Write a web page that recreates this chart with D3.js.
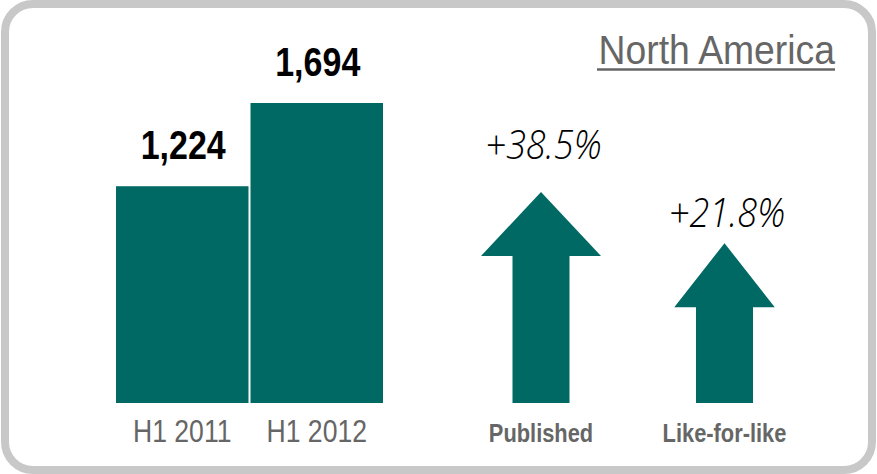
<!DOCTYPE html>
<html>
<head>
<meta charset="utf-8">
<script src="https://cdn.jsdelivr.net/npm/d3@7"></script>
<style>
  html, body { margin: 0; padding: 0; background: #fff; }
  svg { display: block; }
</style>
</head>
<body>
<svg id="chart" width="877" height="474"></svg>
<script>
// Revenue, first half of the year (region panel)
const title = "North America";
const periods = ["H1 2011", "H1 2012"];
const revenue = [1224, 1694];

// Growth indicators
const growthLabels = ["Published", "Like-for-like"];
const growthPct = [38.5, 21.8];

const TEAL = "#006963";
const GREY = "#666666";
const SANS = "'Liberation Sans', Arial, sans-serif";

const svg = d3.select("#chart");

// Squeeze text horizontally to get a condensed face from a regular one
function condense(sel, k) {
  sel.each(function () {
    const w = this.getComputedTextLength();
    d3.select(this)
      .attr("textLength", w * k)
      .attr("lengthAdjust", "spacingAndGlyphs");
  });
}

// Rounded panel frame
svg.append("rect")
  .attr("x", 5).attr("y", 4)
  .attr("width", 867).attr("height", 466)
  .attr("rx", 28).attr("ry", 28)
  .attr("fill", "#fff")
  .attr("stroke", "#c8c8c8")
  .attr("stroke-width", 8);

// Title with underline
svg.append("text")
  .attr("x", 835).attr("y", 64)
  .attr("text-anchor", "end")
  .attr("font-family", SANS)
  .attr("font-size", 41)
  .attr("fill", GREY)
  .text(title)
  .call(condense, 0.91);
svg.append("line")
  .attr("x1", 597).attr("x2", 835)
  .attr("y1", 69.5).attr("y2", 69.5)
  .attr("stroke", GREY).attr("stroke-width", 2.5);

// Bars
const baseline = 403;
const x = d3.scaleBand().domain(periods).range([116, 383]).paddingInner(0.015);
const y = d3.scaleLinear().domain([0, d3.max(revenue)]).range([baseline, 103]);
const fmt = d3.format(",");

const barData = periods.map((p, i) => ({ p, v: revenue[i] }));

svg.append("g").selectAll("rect").data(barData).join("rect")
  .attr("x", d => x(d.p))
  .attr("y", d => y(d.v))
  .attr("width", x.bandwidth())
  .attr("height", d => baseline - y(d.v))
  .attr("fill", TEAL);

svg.append("g").selectAll("text").data(barData).join("text")
  .attr("x", d => x(d.p) + x.bandwidth() / 2 + 1)
  .attr("y", d => y(d.v) - 27)
  .attr("text-anchor", "middle")
  .attr("font-family", SANS)
  .attr("font-size", 40)
  .attr("font-weight", 700)
  .attr("fill", "#000")
  .text(d => fmt(d.v))
  .call(condense, 0.85);

svg.append("g").selectAll("text").data(barData).join("text")
  .attr("x", d => x(d.p) + x.bandwidth() / 2)
  .attr("y", 442)
  .attr("text-anchor", "middle")
  .attr("font-family", SANS)
  .attr("font-size", 32)
  .attr("fill", GREY)
  .text(d => d.p)
  .call(condense, 0.83);

// Growth arrows
const gx = d3.scalePoint().domain(growthLabels).range([541, 724.5]);
const arrowH = d3.scaleLinear().domain([0, d3.max(growthPct)]).range([93, 211]);
const headW = d3.scaleLinear().domain([0, d3.max(growthPct)]).range([75, 120]);
const labelY = d3.scaleLinear().domain([0, d3.max(growthPct)]).range([316, 159]);
const shaftW = 57, headH = 64;

const growthData = growthLabels.map((l, i) => ({ l, v: growthPct[i] }));

function arrowPath(d) {
  const cx = gx(d.l), top = baseline - arrowH(d.v), hw = headW(d.v) / 2, sw = shaftW / 2;
  const p = d3.path();
  p.moveTo(cx, top);
  p.lineTo(cx + hw, top + headH);
  p.lineTo(cx + sw, top + headH);
  p.lineTo(cx + sw, baseline);
  p.lineTo(cx - sw, baseline);
  p.lineTo(cx - sw, top + headH);
  p.lineTo(cx - hw, top + headH);
  p.closePath();
  return p.toString();
}

svg.append("g").selectAll("path").data(growthData).join("path")
  .attr("d", arrowPath)
  .attr("fill", TEAL);

svg.append("g").selectAll("text").data(growthData).join("text")
  .attr("x", d => gx(d.l) + 2.5)
  .attr("y", d => labelY(d.v))
  .attr("text-anchor", "middle")
  .attr("font-family", "'Open Sans', sans-serif")
  .attr("font-weight", 300)
  .attr("font-style", "italic")
  .attr("font-size", 41)
  .attr("fill", "#000")
  .text(d => "+" + d.v.toFixed(1) + "%")
  .call(condense, 0.88);

svg.append("g").selectAll("text").data(growthData).join("text")
  .attr("x", d => gx(d.l))
  .attr("y", 442)
  .attr("text-anchor", "middle")
  .attr("font-family", SANS)
  .attr("font-size", 26)
  .attr("font-weight", 700)
  .attr("fill", GREY)
  .text(d => d.l)
  .call(condense, 0.84);
</script>
</body>
</html>
